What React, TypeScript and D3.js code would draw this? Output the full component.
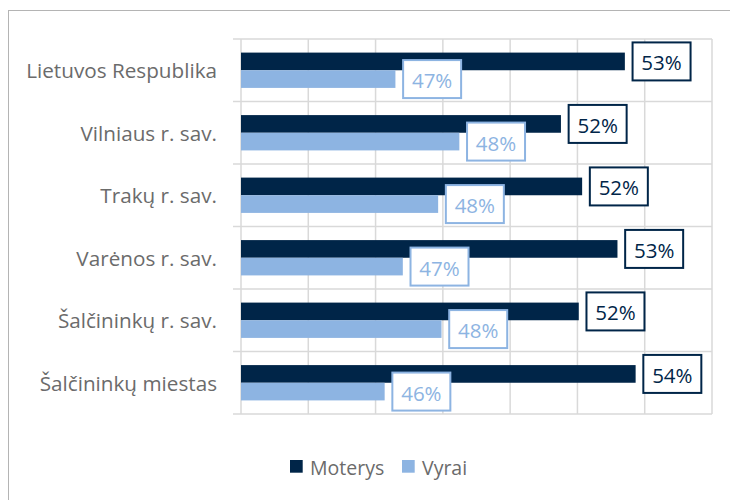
import React from "react";
import * as d3 from "d3";

const categories = [
  "Lietuvos Respublika",
  "Vilniaus r. sav.",
  "Trakų r. sav.",
  "Varėnos r. sav.",
  "Šalčininkų r. sav.",
  "Šalčininkų miestas",
];
const moterys = [0.5341, 0.5151, 0.5214, 0.5319, 0.5204, 0.5373];
const vyrai = [0.4659, 0.4849, 0.4786, 0.4681, 0.4796, 0.4627];
const seriesNames = ["Moterys", "Vyrai"];
const colors = ["#002548", "#8db4e2"];
const xTicks = [0.42, 0.44, 0.46, 0.48, 0.5, 0.52, 0.54, 0.56];

const W = 730;
const H = 500;
const plot = { left: 241, right: 712, top: 39, bottom: 414 };
const FONT = "'Open Sans', 'Noto Sans', sans-serif";

export default function App() {
  const x = d3.scaleLinear().domain([0.42, 0.56]).range([plot.left, plot.right]);
  const y = d3.scaleBand<string>().domain(categories).range([plot.top, plot.bottom]).padding(0);
  const bw = y.bandwidth();
  const pairH = bw * 0.565;
  const barH = pairH / 2;
  const series = [moterys, vyrai];
  const fmt = (v: number) => `${Math.round(v * 100)}%`;
  const boxW = 58;
  const boxH = 38;
  const gap = 7.7;

  return (
    <svg
      width={W}
      height={H}
      style={{ position: "absolute", left: 0, top: 0, background: "#fff" }}
      fontFamily={FONT}
    >
      <rect x={8.5} y={10.5} width={W + 20} height={H + 20} fill="#fff" stroke="#b4b4b4" strokeWidth={1} />
      {/* vertical gridlines */}
      {xTicks.map((t) => (
        <line key={"gx" + t} x1={x(t)} x2={x(t)} y1={plot.top} y2={plot.bottom} stroke="#d9d9d9" strokeWidth={1.5} />
      ))}
      {/* horizontal gridlines with ticks */}
      {[...categories.map((c) => y(c) as number), plot.bottom].map((yy, i) => (
        <line key={"gy" + i} x1={plot.left - 8} x2={plot.right} y1={yy} y2={yy} stroke="#d9d9d9" strokeWidth={1.5} />
      ))}
      {/* category labels */}
      {categories.map((c) => (
        <text
          key={"cl" + c}
          x={217}
          y={(y(c) as number) + bw / 2}
          textAnchor="end"
          dominantBaseline="central"
          fontSize={20.7}
          fill="#6b6b6b"
        >
          {c}
        </text>
      ))}
      {/* bars */}
      {series.map((vals, si) =>
        vals.map((v, i) => {
          const y0 = (y(categories[i]) as number) + (bw - pairH) / 2 + si * barH;
          return (
            <rect
              key={"b" + si + "-" + i}
              x={plot.left}
              y={y0}
              width={x(v) - plot.left}
              height={barH}
              fill={colors[si]}
            />
          );
        })
      )}
      {/* data labels */}
      {series.map((vals, si) =>
        vals.map((v, i) => {
          const cy = (y(categories[i]) as number) + (bw - pairH) / 2 + si * barH + barH / 2;
          const bx = x(v) + gap;
          return (
            <g key={"l" + si + "-" + i}>
              <rect
                x={bx}
                y={cy - boxH / 2}
                width={boxW}
                height={boxH}
                fill="#fff"
                stroke={colors[si]}
                strokeWidth={2}
              />
              <text
                x={bx + boxW / 2}
                y={cy + 1}
                textAnchor="middle"
                dominantBaseline="central"
                fontSize={20.5}
                fill={colors[si]}
              >
                {fmt(v)}
              </text>
            </g>
          );
        })
      )}
      {/* legend */}
      {seriesNames.map((n, i) => {
        const lx = i === 0 ? 290 : 402;
        return (
          <g key={"lg" + n}>
            <rect x={lx} y={460} width={12.7} height={12.7} fill={colors[i]} />
            <text x={lx + 20} y={467} dominantBaseline="central" fontSize={19.5} fill="#6b6b6b">
              {n}
            </text>
          </g>
        );
      })}
    </svg>
  );
}
